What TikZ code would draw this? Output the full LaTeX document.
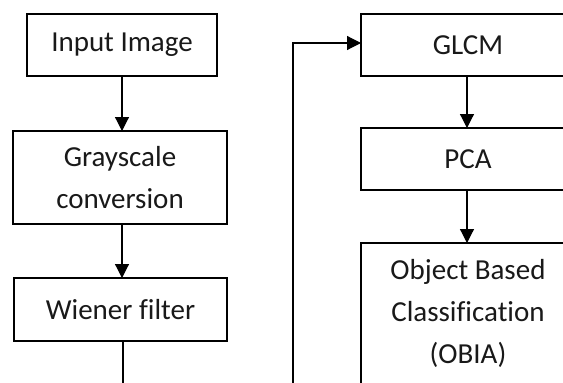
\documentclass[tikz,border=0pt]{standalone}
\usepackage{fontspec}
\setmainfont{Carlito}[Ligatures=NoCommon]
\usetikzlibrary{arrows.meta}
\begin{document}
\begin{tikzpicture}[x=1pt,y=-1pt,
  box/.style={draw=black, line width=1.3pt, fill=white, inner sep=0pt, outer sep=0pt, align=center,
    font=\fontsize{29}{42}\selectfont, text=black!90},
  conn/.style={line width=1.2pt, -{Triangle[width=14pt,length=14pt]}}]
\clip (0,0) rectangle (563,383);
\fill[white] (0,0) rectangle (563,383);
% left column
\node[box, minimum width=190pt, minimum height=62pt] (in) at (122,45) {Input Image};
\node[box, minimum width=214pt, minimum height=93pt] (gray) at (120,177.5) {Grayscale\\conversion};
\node[box, minimum width=213pt, minimum height=63pt] (wien) at (120.5,309.5) {Wiener filter};
% right column
\node[box, minimum width=214pt, minimum height=62pt] (glcm) at (468,45) {GLCM};
\node[box, minimum width=214pt, minimum height=62pt] (pca) at (468,159) {PCA};
\node[box, anchor=north west, minimum width=214pt, minimum height=200pt,
  label={[anchor=north, align=center, font=\fontsize{29}{42}\selectfont, text=black!90, yshift=-13pt]north:Object Based\\Classification\\(OBIA)}] (obia) at (361,243) {};
% connectors
\draw[conn] (in.south -| 122,0) -- (gray.north -| 122,0);
\draw[conn] (gray.south -| 122,0) -- (wien.north -| 122,0);
\draw[conn] (glcm.south -| 467,0) -- (pca.north -| 467,0);
\draw[conn] (pca.south -| 467,0) -- (obia.north -| 467,0);
\coordinate (loopL) at (123,430);
\coordinate (loopR) at (293,430);
\draw[conn] (wien.south -| 123,0) -- (loopL) -- (loopR) -- (293,43) -- (glcm.west |- 0,43);
\end{tikzpicture}
\end{document}
